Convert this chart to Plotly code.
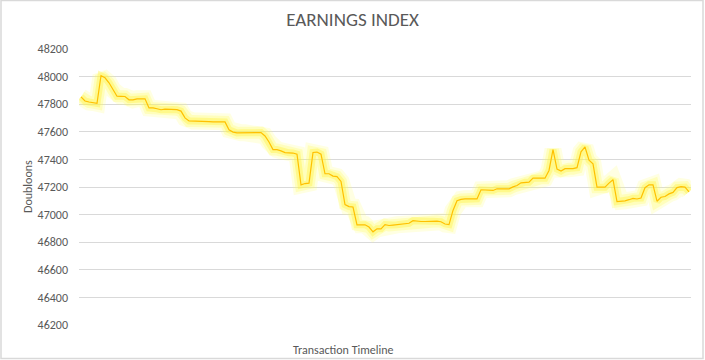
import plotly.graph_objects as go

title_text = "EARNINGS INDEX"
y_title = "Doubloons"
x_title = "Transaction Timeline"

earnings = [
    47853, 47823, 47816, 47812, 47806, 48006, 47991, 47955, 47904, 47858,
    47857, 47856, 47832, 47832, 47839, 47839, 47839, 47773, 47773, 47767,
    47760, 47764, 47763, 47762, 47760, 47750, 47701, 47679, 47679, 47679,
    47679, 47679, 47674, 47672, 47672, 47672, 47672, 47615, 47598, 47592,
    47593, 47593, 47593, 47594, 47594, 47594, 47570, 47526, 47471, 47471,
    47462, 47449, 47448, 47446, 47437, 47215, 47225, 47228, 47450, 47453,
    47438, 47296, 47296, 47279, 47275, 47240, 47072, 47058, 47055, 46926,
    46926, 46926, 46910, 46875, 46897, 46897, 46927, 46921, 46924, 46926,
    46928, 46931, 46937, 46956, 46952, 46950, 46950, 46951, 46951, 46952,
    46948, 46932, 46928, 47030, 47100, 47110, 47114, 47114, 47114, 47114,
    47180, 47178, 47177, 47175, 47187, 47187, 47187, 47187, 47201, 47211,
    47230, 47235, 47235, 47264, 47264, 47264, 47264, 47320, 47471, 47330,
    47316, 47333, 47333, 47333, 47340, 47455, 47490, 47395, 47368, 47199,
    47199, 47199, 47228, 47253, 47095, 47097, 47100, 47108, 47118, 47113,
    47120, 47195, 47216, 47216, 47097, 47126, 47131, 47150, 47161, 47196,
    47203, 47199, 47165,
]
timeline = list(range(len(earnings)))
y_ticks = [46200, 46400, 46600, 46800, 47000, 47200, 47400, 47600, 47800, 48000, 48200]

FONT = "Liberation Sans Narrow, Carlito, Arial Narrow, Roboto, sans-serif"

fig = go.Figure()
# glow layers
for w, c in [(17, "rgba(255,255,110,0.20)"), (12, "rgba(255,252,80,0.26)"), (7, "rgba(255,240,50,0.35)")]:
    fig.add_trace(go.Scatter(x=timeline, y=earnings, mode="lines",
                             line=dict(color=c, width=w, shape="linear"),
                             hoverinfo="skip", showlegend=False))
fig.add_trace(go.Scatter(x=timeline, y=earnings, mode="lines",
                         line=dict(color="#FFC000", width=1.2),
                         showlegend=False, name="Earnings"))

fig.update_layout(
    width=705, height=360,
    margin=dict(l=79, r=14, t=49, b=35),
    paper_bgcolor="white", plot_bgcolor="white",
    font=dict(family=FONT, color="#595959", size=12),
    title=dict(text=title_text, x=352.5 / 705, xref="container", xanchor="center",
               y=1 - 19 / 360, yref="container", yanchor="middle",
               font=dict(family=FONT, size=19, color="#595959")),
    xaxis=dict(range=[-0.5, len(earnings) - 0.5], showgrid=False, showticklabels=False,
               zeroline=False, showline=False, ticks=""),
    yaxis=dict(range=[46200, 48200], tickvals=y_ticks, ticktext=[str(v) for v in y_ticks],
               showgrid=True, gridcolor="#D9D9D9", gridwidth=1, zeroline=False,
               showline=False, ticks="", ticklabelstandoff=10,
               tickfont=dict(family=FONT, size=12, color="#595959")),
    annotations=[
        dict(text=y_title, xref="paper", yref="paper", x=(28 - 79) / 612, y=0.5,
             textangle=-90, showarrow=False, xanchor="center", yanchor="middle",
             font=dict(family=FONT, size=12, color="#595959")),
        dict(text=x_title, xref="paper", yref="paper", x=(343 - 79) / 612, y=(325 - 350) / 276,
             showarrow=False, xanchor="center", yanchor="middle",
             font=dict(family=FONT, size=12, color="#595959")),
    ],
    shapes=[dict(type="rect", xref="paper", yref="paper",
                 x0=(1 - 79) / 612, x1=(703 - 79) / 612,
                 y0=(325 - 358.5) / 276, y1=(325 - 0.5) / 276,
                 line=dict(color="#D9D9D9", width=1.5), fillcolor="rgba(0,0,0,0)", layer="above")],
)

fig.write_html("out.html", config={"displayModeBar": False},
               post_script="document.body.style.margin='0';document.body.style.overflow='hidden';")
